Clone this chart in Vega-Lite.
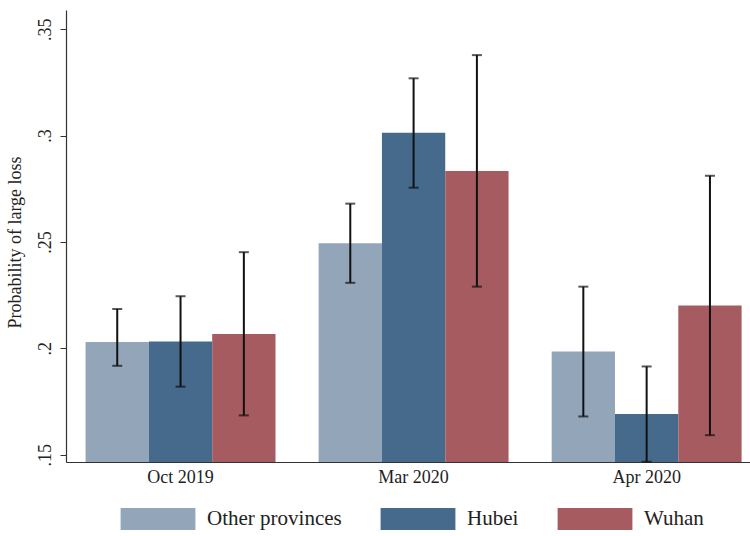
{
  "$schema": "https://vega.github.io/schema/vega-lite/v6.json",
  "width": 684,
  "height": 452,
  "autosize": {"type": "none"},
  "padding": {"left": 66, "top": 10, "right": 0, "bottom": 74},
  "background": "white",
  "config": {
    "view": {"stroke": null},
    "font": "Liberation Serif",
    "axis": {"grid": false, "domainColor": "#333333", "tickColor": "#333333", "labelColor": "#222222", "titleColor": "#222222", "labelFont": "Liberation Serif", "titleFont": "Liberation Serif", "titleFontWeight": "normal"}
  },
  "data": {
    "values": [
      {"period": "Oct 2019", "group": "Other provinces", "p": 0.203, "lo": 0.1918, "hi": 0.2185},
      {"period": "Oct 2019", "group": "Hubei", "p": 0.2032, "lo": 0.182, "hi": 0.2245},
      {"period": "Oct 2019", "group": "Wuhan", "p": 0.2068, "lo": 0.1685, "hi": 0.2452},
      {"period": "Mar 2020", "group": "Other provinces", "p": 0.2494, "lo": 0.2308, "hi": 0.268},
      {"period": "Mar 2020", "group": "Hubei", "p": 0.3013, "lo": 0.2755, "hi": 0.3269},
      {"period": "Mar 2020", "group": "Wuhan", "p": 0.2833, "lo": 0.229, "hi": 0.3378},
      {"period": "Apr 2020", "group": "Other provinces", "p": 0.1985, "lo": 0.168, "hi": 0.229},
      {"period": "Apr 2020", "group": "Hubei", "p": 0.1691, "lo": 0.1467, "hi": 0.1915},
      {"period": "Apr 2020", "group": "Wuhan", "p": 0.2201, "lo": 0.1592, "hi": 0.2811}
    ]
  },
  "encoding": {
    "x": {
      "field": "period", "type": "nominal",
      "sort": ["Oct 2019", "Mar 2020", "Apr 2020"],
      "scale": {"paddingInner": 0.185, "paddingOuter": 0.06, "align": 0.7},
      "axis": {"title": null, "labelAngle": 0, "ticks": false, "labelFontSize": 18, "labelPadding": 6, "domainWidth": 1.2}
    },
    "xOffset": {"field": "group", "type": "nominal", "sort": ["Other provinces", "Hubei", "Wuhan"], "scale": {"paddingInner": 0, "paddingOuter": 0}}
  },
  "layer": [
    {
      "mark": {"type": "bar", "clip": true},
      "encoding": {
        "y": {
          "field": "p", "type": "quantitative",
          "scale": {"domain": [0.1466, 0.359], "zero": false, "nice": false},
          "axis": {
            "title": "Probability of large loss",
            "titleFontSize": 18,
            "titleX": -42,
            "titleY": 232,
            "titleBaseline": "bottom",
            "values": [0.15, 0.2, 0.25, 0.3, 0.35],
            "labelExpr": "substring(format(datum.value, '.2~f'), 1)",
            "labelAngle": -90,
            "labelAlign": "center",
            "labelBaseline": "bottom",
            "labelFontSize": 18,
            "labelPadding": 6,
            "tickSize": 6,
            "domainWidth": 1.2
          }
        },
        "color": {
          "field": "group", "type": "nominal",
          "sort": ["Other provinces", "Hubei", "Wuhan"],
          "scale": {"domain": ["Other provinces", "Hubei", "Wuhan"], "range": ["#93a6b9", "#466a8c", "#a65b60"]},
          "legend": {
            "title": null,
            "orient": "none",
            "legendX": 70,
            "legendY": 487,
            "direction": "horizontal",
            "columns": 3,
            "padding": 0,
            "symbolType": "M-1.7,-0.5H1.7V0.5H-1.7Z",
            "symbolSize": 1936,
            "symbolStrokeWidth": 0,
            "symbolOpacity": 1,
            "labelFont": "Liberation Serif",
            "labelFontSize": 21,
            "labelColor": "#222222",
            "labelOffset": 27,
            "columnPadding": 38
          }
        }
      }
    },
    {
      "mark": {"type": "rule", "color": "#111111", "strokeWidth": 2},
      "encoding": {
        "y": {"field": "lo", "type": "quantitative"},
        "y2": {"field": "hi"}
      }
    },
    {
      "mark": {"type": "tick", "color": "#111111", "thickness": 2, "size": 10},
      "encoding": {"y": {"field": "lo", "type": "quantitative"}}
    },
    {
      "mark": {"type": "tick", "color": "#111111", "thickness": 2, "size": 10},
      "encoding": {"y": {"field": "hi", "type": "quantitative"}}
    }
  ]
}
